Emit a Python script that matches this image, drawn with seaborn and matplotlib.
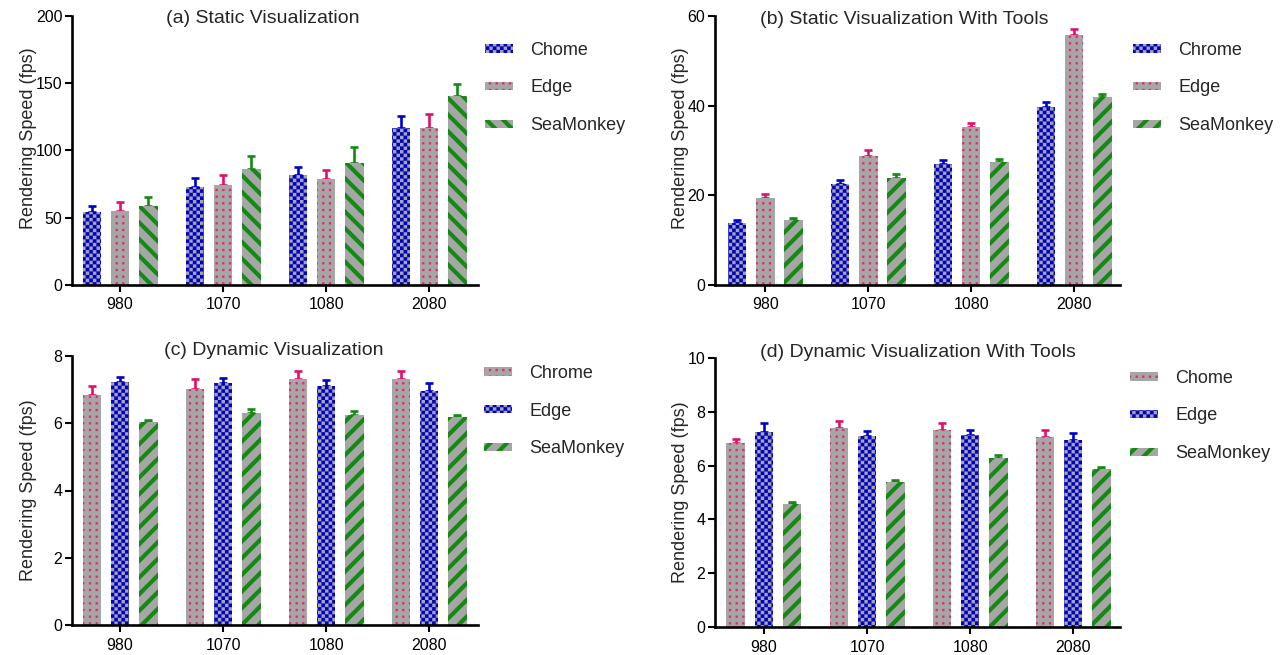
import warnings
warnings.filterwarnings("ignore")
import numpy as np
import pandas as pd
import matplotlib
matplotlib.use("Agg")
import matplotlib as mpl
import matplotlib.pyplot as plt
import matplotlib.patches as mpatches
import matplotlib.hatch as mhatch
from matplotlib.path import Path
import seaborn as sns

# ---------------- data ----------------
gpus = ["980", "1070", "1080", "2080"]
browsers = ["Chrome", "Edge", "SeaMonkey"]

a_chrome = [54.3, 73.2, 81.5, 117.0]
a_edge = [55.3, 74.7, 78.9, 116.8]
a_sea = [58.5, 86.2, 90.4, 140.7]
a_chrome_err = [4.5, 6.5, 6.4, 8.3]
a_edge_err = [6.2, 6.8, 6.8, 10.0]
a_sea_err = [6.8, 9.5, 12.0, 8.5]

b_chrome = [13.9, 22.6, 27.1, 39.8]
b_edge = [19.5, 28.8, 35.3, 55.8]
b_sea = [14.4, 23.8, 27.4, 41.9]
b_chrome_err = [0.5, 0.9, 0.8, 1.1]
b_edge_err = [0.8, 1.3, 0.9, 1.2]
b_sea_err = [0.5, 0.9, 0.7, 0.7]

c_chrome = [6.85, 7.02, 7.31, 7.31]
c_edge = [7.22, 7.19, 7.11, 6.97]
c_sea = [6.03, 6.31, 6.25, 6.18]
c_chrome_err = [0.25, 0.31, 0.25, 0.25]
c_edge_err = [0.17, 0.17, 0.17, 0.22]
c_sea_err = [0.08, 0.12, 0.11, 0.08]

d_chrome = [6.83, 7.38, 7.34, 7.08]
d_edge = [7.26, 7.09, 7.12, 6.95]
d_sea = [4.59, 5.39, 6.29, 5.88]
d_chrome_err = [0.17, 0.27, 0.25, 0.26]
d_edge_err = [0.33, 0.20, 0.19, 0.25]
d_sea_err = [0.04, 0.06, 0.10, 0.07]

titles = ["(a) Static Visualization", "(b) Static Visualization With Tools",
          "(c) Dynamic Visualization", "(d) Dynamic Visualization With Tools"]
legend_labels = [["Chome", "Edge", "SeaMonkey"],
                 ["Chrome", "Edge", "SeaMonkey"],
                 ["Chrome", "Edge", "SeaMonkey"],
                 ["Chome", "Edge", "SeaMonkey"]]
ylabel = "Rendering Speed (fps)"


# ---------------- custom hatch patterns ----------------
class CheckerHatch(mhatch.HatchPatternBase):
    def __init__(self, hatch, density):
        self.n = 28 if "c" in hatch else 0
        self.num_vertices = (self.n * self.n // 2) * 5

    def set_vertices_and_codes(self, vertices, codes):
        n = self.n
        s = 1.0 / n
        k = 0
        for i in range(n):
            for j in range(n):
                if (i + j) % 2 == 0:
                    x0, y0 = j * s, i * s
                    vertices[k:k + 5] = [(x0, y0), (x0 + s, y0), (x0 + s, y0 + s),
                                         (x0, y0 + s), (x0, y0)]
                    codes[k:k + 5] = [Path.MOVETO, Path.LINETO, Path.LINETO,
                                      Path.LINETO, Path.CLOSEPOLY]
                    k += 5


class DotGridHatch(mhatch.HatchPatternBase):
    def __init__(self, hatch, density):
        self.m = 15 if "d" in hatch else 0
        self.num_vertices = self.m * self.m * 5

    def set_vertices_and_codes(self, vertices, codes):
        m = self.m
        s = 1.0 / m
        r = 0.007
        k = 0
        for i in range(m):
            for j in range(m):
                cx, cy = (j + 0.5) * s, (i + 0.5) * s
                vertices[k:k + 5] = [(cx - r, cy - r), (cx + r, cy - r), (cx + r, cy + r),
                                     (cx - r, cy + r), (cx - r, cy - r)]
                codes[k:k + 5] = [Path.MOVETO, Path.LINETO, Path.LINETO,
                                  Path.LINETO, Path.CLOSEPOLY]
                k += 5


mhatch._hatch_types.append(CheckerHatch)
mhatch._hatch_types.append(DotGridHatch)

GRAY = "#a6a6a6"
BLUE = "#0000cc"
PINK = "#e8246e"
PINK_ERR = "#e0106a"
GREEN = "#138a13"

STYLES = {
    "checker": dict(hcolor=BLUE, hatch="c", hlw=0.1, ecolor=BLUE),
    "dots": dict(hcolor=PINK, hatch="d", hlw=0.6, ecolor=PINK_ERR),
    "stripe_f": dict(hcolor=GREEN, hatch="//", hlw=3.0, ecolor=GREEN),
    "stripe_b": dict(hcolor=GREEN, hatch="\\\\", hlw=3.0, ecolor=GREEN),
}


def style_patch(p, st):
    p.set_facecolor(GRAY)
    p.set_edgecolor(st["hcolor"])
    p.set_linewidth(0)
    p.set_hatch(st["hatch"])
    if hasattr(p, "set_hatch_linewidth"):
        p.set_hatch_linewidth(st["hlw"])
    orig = p.draw

    def draw(renderer, _orig=orig, _lw=st["hlw"]):
        with mpl.rc_context({"hatch.linewidth": _lw}):
            _orig(renderer)
    p.draw = draw


# ---------------- figure ----------------
sns.set_style("ticks")
plt.rcParams["font.family"] = ["Liberation Sans", "DejaVu Sans"]

fig = plt.figure(figsize=(12.88, 6.55), dpi=100)

panels = [
    dict(vals=[a_chrome, a_edge, a_sea], errs=[a_chrome_err, a_edge_err, a_sea_err],
         styles=["checker", "dots", "stripe_b"],
         rect=[72 / 1288, 1 - 285 / 655, 406 / 1288, 269 / 655],
         xlim=(-0.467, 3.475), ylim=(0, 200), yticks=[0, 50, 100, 150, 200],
         title_xy=(0.47, 0.973), ylab_xy=(-0.086, 0.545),
         leg_xy=(485 / 1288, 1 - 88 / 655)),
    dict(vals=[b_chrome, b_edge, b_sea], errs=[b_chrome_err, b_edge_err, b_sea_err],
         styles=["checker", "dots", "stripe_f"],
         rect=[715 / 1288, 1 - 285 / 655, 405 / 1288, 269 / 655],
         xlim=(-0.488, 3.445), ylim=(0, 60), yticks=[0, 20, 40, 60],
         title_xy=(0.467, 0.970), ylab_xy=(-0.064, 0.545),
         leg_xy=(1133 / 1288, 1 - 88 / 655)),
    dict(vals=[c_chrome, c_edge, c_sea], errs=[c_chrome_err, c_edge_err, c_sea_err],
         styles=["dots", "checker", "stripe_f"],
         rect=[72 / 1288, 1 - 625 / 655, 406 / 1288, 269 / 655],
         xlim=(-0.467, 3.475), ylim=(0, 8), yticks=[0, 2, 4, 6, 8],
         title_xy=(0.498, 1.004), ylab_xy=(-0.086, 0.5),
         leg_xy=(484 / 1288, 1 - 411 / 655)),
    dict(vals=[d_chrome, d_edge, d_sea], errs=[d_chrome_err, d_edge_err, d_sea_err],
         styles=["dots", "checker", "stripe_f"],
         rect=[715 / 1288, 1 - 627 / 655, 405 / 1288, 269 / 655],
         xlim=(-0.475, 3.454), ylim=(0, 10), yticks=[0, 2, 4, 6, 8, 10],
         title_xy=(0.50, 1.003), ylab_xy=(-0.064, 0.5),
         leg_xy=(1130 / 1288, 1 - 416 / 655)),
]

for k, P in enumerate(panels):
    ax = fig.add_axes(P["rect"])
    rows = []
    for b, series in zip(browsers, P["vals"]):
        for g, v in zip(gpus, series):
            rows.append({"gpu": g, "browser": b, "fps": v})
    df = pd.DataFrame(rows)
    sns.barplot(data=df, x="gpu", y="fps", hue="browser", order=gpus,
                hue_order=browsers, width=0.82, gap=0.34, errorbar=None,
                legend=False, ax=ax, zorder=2)

    for cont, sname, err in zip(ax.containers, P["styles"], P["errs"]):
        st = STYLES[sname]
        xs, ys = [], []
        for bar in cont:
            style_patch(bar, st)
            bar.set_zorder(2)
            xs.append(bar.get_x() + bar.get_width() / 2)
            ys.append(bar.get_height())
        ax.errorbar(xs, ys, yerr=[np.zeros(len(err)), err], fmt="none",
                    ecolor=st["ecolor"], elinewidth=1.9, capsize=2.9,
                    capthick=1.9, zorder=1)

    ax.set_xlim(*P["xlim"])
    ax.set_ylim(*P["ylim"])
    ax.set_yticks(P["yticks"])
    ax.set_xlabel("")
    ax.set_ylabel(ylabel, fontsize=13)
    ax.yaxis.set_label_coords(*P["ylab_xy"])
    for side in ["top", "right"]:
        ax.spines[side].set_visible(False)
    for side in ["left", "bottom"]:
        ax.spines[side].set_linewidth(1.9)
        ax.spines[side].set_color("black")
    ax.tick_params(axis="y", direction="out", length=5, width=1.5,
                   labelsize=11.5, pad=2, colors="black")
    ax.tick_params(axis="x", direction="out", length=5, width=1.5,
                   labelsize=11.5, pad=4, colors="black")
    ax.set_facecolor("white")
    ax.text(P["title_xy"][0], P["title_xy"][1], titles[k], transform=ax.transAxes,
            ha="center", va="baseline", fontsize=14)

    handles = [mpatches.Patch() for _ in range(3)]
    leg = ax.legend(handles, legend_labels[k], loc="center left",
                    bbox_to_anchor=P["leg_xy"], bbox_transform=fig.transFigure,
                    frameon=False, borderpad=0, borderaxespad=0,
                    handlelength=1.55, handleheight=0.35, handletextpad=0.95,
                    labelspacing=1.15, fontsize=13)
    for lp, sname in zip(leg.get_patches(), P["styles"]):
        style_patch(lp, STYLES[sname])

fig.savefig("out.png", dpi=100, facecolor="white")
